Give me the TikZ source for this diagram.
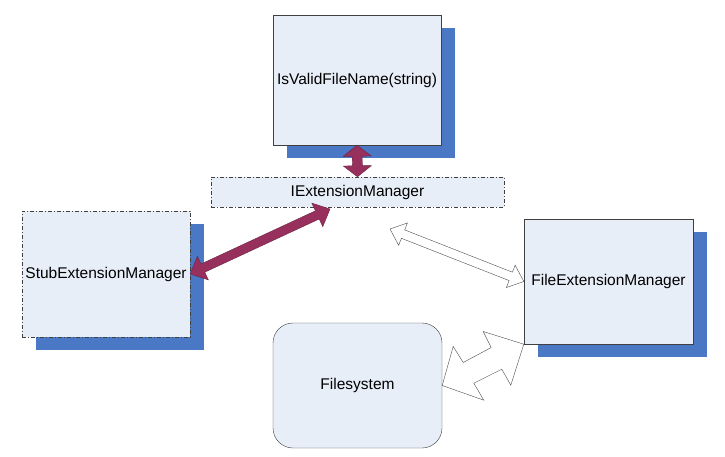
\documentclass[tikz,border=0pt]{standalone}
\usepackage{fontspec}
\setmainfont{Liberation Sans}
\usetikzlibrary{calc,shadows}
\definecolor{boxfill}{HTML}{E8EEF8}
\definecolor{shadowblue}{HTML}{4A78C4}
\definecolor{plum}{HTML}{98305E}

% fat double arrow: style, from, to, half shaft width, half head width, head length
\newcommand{\fatarrow}[6]{%
  \draw[#1] (#2) -- ($(#2)!#6!(#3)!#5!-90:(#3)$) -- ($(#2)!#6!(#3)!#4!-90:(#3)$)
    -- ($(#3)!#6!(#2)!#4!90:(#2)$) -- ($(#3)!#6!(#2)!#5!90:(#2)$) -- (#3)
    -- ($(#3)!#6!(#2)!#5!-90:(#2)$) -- ($(#3)!#6!(#2)!#4!-90:(#2)$)
    -- ($(#2)!#6!(#3)!#4!90:(#3)$) -- ($(#2)!#6!(#3)!#5!90:(#3)$) -- cycle;}

\begin{document}
\begin{tikzpicture}[x=1pt,y=-1pt,font=\fontsize{15.5}{18}\selectfont,
  box/.style={draw=black!75,fill=boxfill,thin,inner sep=0pt},
  shade box/.style={box,drop shadow={shadow xshift=14pt,shadow yshift=-13pt,fill=shadowblue,opacity=1}},
  dashbox/.style={box,dash pattern=on 4pt off 2pt on 1pt off 2pt},
  plumarrow/.style={fill=plum,draw=plum!70!black,thin},
  whitearrow/.style={fill=white,draw=black!70,thin}]
  \useasboundingbox (0,0) rectangle (725,457);

  \node[shade box,minimum width=168pt,minimum height=130pt] (valid) at (357,80) {IsValidFileName(string)};
  \node[dashbox,minimum width=293pt,minimum height=30pt] (iem) at (357.5,192) {IExtensionManager};
  \node[dashbox,shade box,dash pattern=on 4pt off 2pt on 1pt off 2pt,minimum width=168pt,minimum height=126pt] (stub) at (106,274) {StubExtensionManager};
  \node[shade box,minimum width=169pt,minimum height=125pt] (fem) at (608.5,281.5) {FileExtensionManager};
  \node[box,rounded corners=20pt,minimum width=169pt,minimum height=125pt] (fs) at (357.5,385.5) {Filesystem};

  \coordinate (iemL) at (330,209);
  \coordinate (iemR) at (390,229);

  \fatarrow{plumarrow}{valid.south}{iem.north}{5pt}{14pt}{11pt}
  \fatarrow{plumarrow}{stub.east}{iemL}{4.5pt}{13pt}{14pt}
  \fatarrow{whitearrow}{iemR}{fem.west}{4.5pt}{12pt}{14pt}

  \draw[whitearrow] (fs.east) -- ++(11,-39) -- ++(10,16) -- ++(28,-15) -- ++(-8,-16)
    -- (fem.south west) -- ++(-13,41) -- ++(-9,-16) -- ++(-28,14) -- ++(10,17) -- cycle;
\end{tikzpicture}
\end{document}
